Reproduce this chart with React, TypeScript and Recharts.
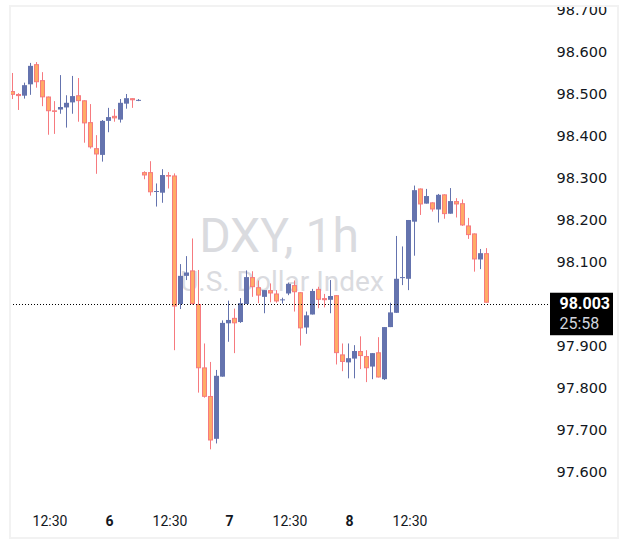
import { Bar, ComposedChart, ReferenceLine, XAxis, YAxis } from "recharts";

// hourly OHLC
const opens = [
  98.507, 98.5, 98.496, 98.523, 98.571, 98.533, 98.494, 98.461, 98.463, 98.468,
  98.48, 98.497, 98.485, 98.433, 98.371, 98.355, 98.436, 98.448, 98.439, 98.477,
  98.49, 98.485, 98.314, 98.314, 98.268, 98.265, 98.307, 98.306, 98.0, 98.067,
  98.08, 98.0, 97.849, 97.781, 97.679, 97.827, 97.954, 97.967, 97.957, 98.0,
  98.064, 98.04, 98.017, 98.033, 98.025, 98.01, 98.025, 98.045, 98.028, 97.944,
  97.975, 98.036, 98.014, 98.01, 98.021, 97.88, 97.861, 97.87, 97.888, 97.876,
  97.851, 97.885, 97.821, 97.945, 97.979, 98.063, 98.06, 98.196, 98.275, 98.239,
  98.242, 98.225, 98.261, 98.215, 98.245, 98.24, 98.187, 98.168, 98.106, 98.121,
];
const highs = [
  98.55, 98.502, 98.527, 98.574, 98.576, 98.552, 98.494, 98.483, 98.545, 98.497,
  98.543, 98.538, 98.485, 98.476, 98.402, 98.438, 98.467, 98.464, 98.488, 98.5,
  98.49, 98.488, 98.316, 98.34, 98.287, 98.321, 98.314, 98.311, 98.095, 98.114,
  98.156, 98.081, 97.906, 97.862, 97.843, 97.961, 98.008, 97.989, 98.014, 98.08,
  98.078, 98.056, 98.033, 98.049, 98.033, 98.015, 98.051, 98.056, 98.028, 97.982,
  98.036, 98.041, 98.024, 98.057, 98.021, 97.906, 97.906, 97.902, 97.923, 97.89,
  97.883, 97.921, 97.945, 98.003, 98.162, 98.137, 98.2, 98.282, 98.275, 98.274,
  98.242, 98.262, 98.261, 98.276, 98.252, 98.249, 98.205, 98.168, 98.131, 98.133,
];
const lows = [
  98.488, 98.462, 98.489, 98.498, 98.515, 98.471, 98.403, 98.405, 98.453, 98.42,
  98.453, 98.434, 98.384, 98.37, 98.31, 98.339, 98.409, 98.434, 98.432, 98.465,
  98.467, 98.483, 98.297, 98.258, 98.232, 98.241, 98.275, 97.89, 97.988, 98.057,
  97.998, 97.789, 97.777, 97.654, 97.668, 97.827, 97.91, 97.883, 97.955, 98.0,
  98.017, 98.002, 97.978, 98.004, 98.003, 98.001, 98.021, 97.982, 97.901, 97.929,
  97.975, 97.99, 97.992, 97.978, 97.856, 97.84, 97.823, 97.823, 97.845, 97.814,
  97.821, 97.825, 97.819, 97.945, 97.979, 98.045, 98.033, 98.115, 98.212, 98.239,
  98.22, 98.194, 98.203, 98.215, 98.206, 98.186, 98.155, 98.077, 98.083, 98.003,
];
const closes = [
  98.498, 98.495, 98.521, 98.567, 98.528, 98.492, 98.459, 98.458, 98.469, 98.479,
  98.495, 98.483, 98.43, 98.373, 98.356, 98.436, 98.445, 98.442, 98.479, 98.49,
  98.485, 98.486, 98.306, 98.266, 98.269, 98.307, 98.304, 97.994, 98.067, 98.075,
  98.0, 97.847, 97.779, 97.675, 97.829, 97.955, 97.962, 97.954, 98.002, 98.064,
  98.04, 98.02, 98.033, 98.025, 98.006, 98.011, 98.048, 98.028, 97.942, 97.973,
  98.031, 98.01, 98.009, 98.019, 97.883, 97.862, 97.871, 97.888, 97.876, 97.847,
  97.883, 97.825, 97.945, 97.98, 98.06, 98.064, 98.2, 98.271, 98.237, 98.257,
  98.225, 98.26, 98.214, 98.245, 98.237, 98.187, 98.164, 98.106, 98.121, 98.003,
];

const timeTicks = [6, 16, 26, 36, 46, 56, 66];
const timeLabels = ["12:30", "6", "12:30", "7", "12:30", "8", "12:30"];
const dayLabels = ["6", "7", "8"];
const priceTicks = [97.6, 97.7, 97.8, 97.9, 98.1, 98.2, 98.3, 98.4, 98.5, 98.6, 98.7];
const lastPrice = 98.003;
const countdown = "25:58";
const rightPadBars = 10;

const UP = "#6473ae";
const DOWN_FILL = "#ffab66";
const DOWN_LINE = "#f67a7f";
const TEXT = "#131722";

const data = [
  ...opens.map((o, i) => ({
    t: i,
    open: o,
    high: highs[i],
    low: lows[i],
    close: closes[i],
    range: [lows[i], highs[i]],
  })),
  ...Array.from({ length: rightPadBars }, (_, k) => ({ t: opens.length + k, range: null })),
];

function Candle(props: any) {
  const { x, y, width, height, payload } = props;
  if (!payload || payload.open == null) return null;
  const { open, high, low, close } = payload;
  const top = Math.min(y, y + height);
  const h = Math.abs(height);
  const span = high - low || 1e-9;
  const toY = (v: number) => top + ((high - v) / span) * h;
  const cx = x + width / 2;
  const up = close >= open;
  const yo = toY(open);
  const yc = toY(close);
  const bTop = Math.min(yo, yc);
  const bH = Math.max(Math.abs(yc - yo), 1);
  if (up) {
    return (
      <g>
        <rect x={cx - 0.5} y={top} width={1} height={Math.max(h, 1)} fill={UP} />
        <rect x={cx - 2.5} y={bTop} width={5} height={bH} fill={UP} />
      </g>
    );
  }
  return (
    <g>
      <rect x={cx - 0.5} y={top} width={1} height={Math.max(h, 1)} fill={DOWN_LINE} />
      <rect
        x={cx - 2}
        y={bTop + 0.5}
        width={4}
        height={Math.max(bH - 1, 0.5)}
        fill={DOWN_FILL}
        stroke={DOWN_LINE}
        strokeWidth={1}
      />
    </g>
  );
}

function PriceTick({ x, y, payload }: any) {
  return (
    <text x={x + 7} y={y} dy="0.36em" fontFamily="DejaVu Sans" fontSize={14.5} fill={TEXT}>
      {Number(payload.value).toFixed(3)}
    </text>
  );
}

function TimeTick({ x, y, payload }: any) {
  const label = timeLabels[timeTicks.indexOf(payload.value)];
  if (label == null) return null;
  const bold = dayLabels.includes(label);
  return (
    <text
      x={x + (bold ? 1 : 1.5)}
      y={y + 11}
      dy="0.36em"
      textAnchor="middle"
      fontFamily="Roboto"
      fontSize={14}
      fontWeight={bold ? 700 : 400}
      fill={TEXT}
    >
      {label}
    </text>
  );
}

function PriceLine({ x1, x2, y1 }: any) {
  const y = Math.round(y1) + 1.5;
  return (
    <line
      x1={Math.round(x1) + 1}
      x2={Math.round(x2) - 1}
      y1={y}
      y2={y}
      stroke="#000"
      strokeWidth={1}
      strokeDasharray="1 2"
      shapeRendering="crispEdges"
    />
  );
}

function PriceTag({ viewBox }: any) {
  const right = viewBox.x + viewBox.width;
  const y = viewBox.y;
  return (
    <g>
      <rect x={right + 0.5} y={y - 10} width={63} height={42.5} fill="#000" />
      <text x={right + 10} y={y + 1} dy="0.36em" fontFamily="Roboto" fontSize={16} fontWeight={700} fill="#fff">
        {lastPrice.toFixed(3)}
      </text>
      <text x={right + 10} y={y + 20.5} dy="0.36em" fontFamily="Roboto" fontSize={16} fill="#d1d4dc">
        {countdown}
      </text>
    </g>
  );
}

export default function App() {
  return (
    <div style={{ position: "fixed", left: 0, top: 0, width: 629, height: 556, background: "#fff" }}>
      <div
        style={{
          position: "absolute",
          left: 9,
          width: 540,
          top: 212,
          textAlign: "center",
          fontFamily: "Roboto",
          color: "#dadbdf",
          lineHeight: 1,
        }}
      >
        <div style={{ fontSize: 48 }}>DXY, 1h</div>
        <div style={{ fontSize: 28, marginTop: 8, marginLeft: 6 }}>U.S. Dollar Index</div>
      </div>
      <div style={{ position: "absolute", left: 0, top: 0 }}>
        <ComposedChart
          width={629}
          height={556}
          data={data}
          margin={{ top: 6, right: 0, bottom: 18, left: 9.5 }}
          barCategoryGap={0}
          barGap={0}
        >
          <XAxis
            dataKey="t"
            type="category"
            ticks={timeTicks}
            interval={0}
            height={28}
            axisLine={false}
            tickLine={false}
            tickSize={0}
            tickMargin={0}
            tick={<TimeTick />}
          />
          <YAxis
            orientation="right"
            type="number"
            domain={[97.5095, 98.7095]}
            allowDataOverflow
            ticks={priceTicks}
            width={79.5}
            axisLine={false}
            tickLine={false}
            tickSize={0}
            tickMargin={0}
            tick={<PriceTick />}
          />
          <Bar dataKey="range" shape={<Candle />} isAnimationActive={false} />
          <ReferenceLine y={lastPrice} shape={<PriceLine />} label={<PriceTag />} />
        </ComposedChart>
      </div>
      <div style={{ position: "absolute", left: 0, top: 0, width: 629, height: 5, background: "#fff" }} />
      <div
        style={{
          position: "absolute",
          left: 9,
          top: 5,
          width: 610,
          height: 534,
          border: "2px solid #f2f2f2",
          boxSizing: "border-box",
          pointerEvents: "none",
        }}
      />
    </div>
  );
}
